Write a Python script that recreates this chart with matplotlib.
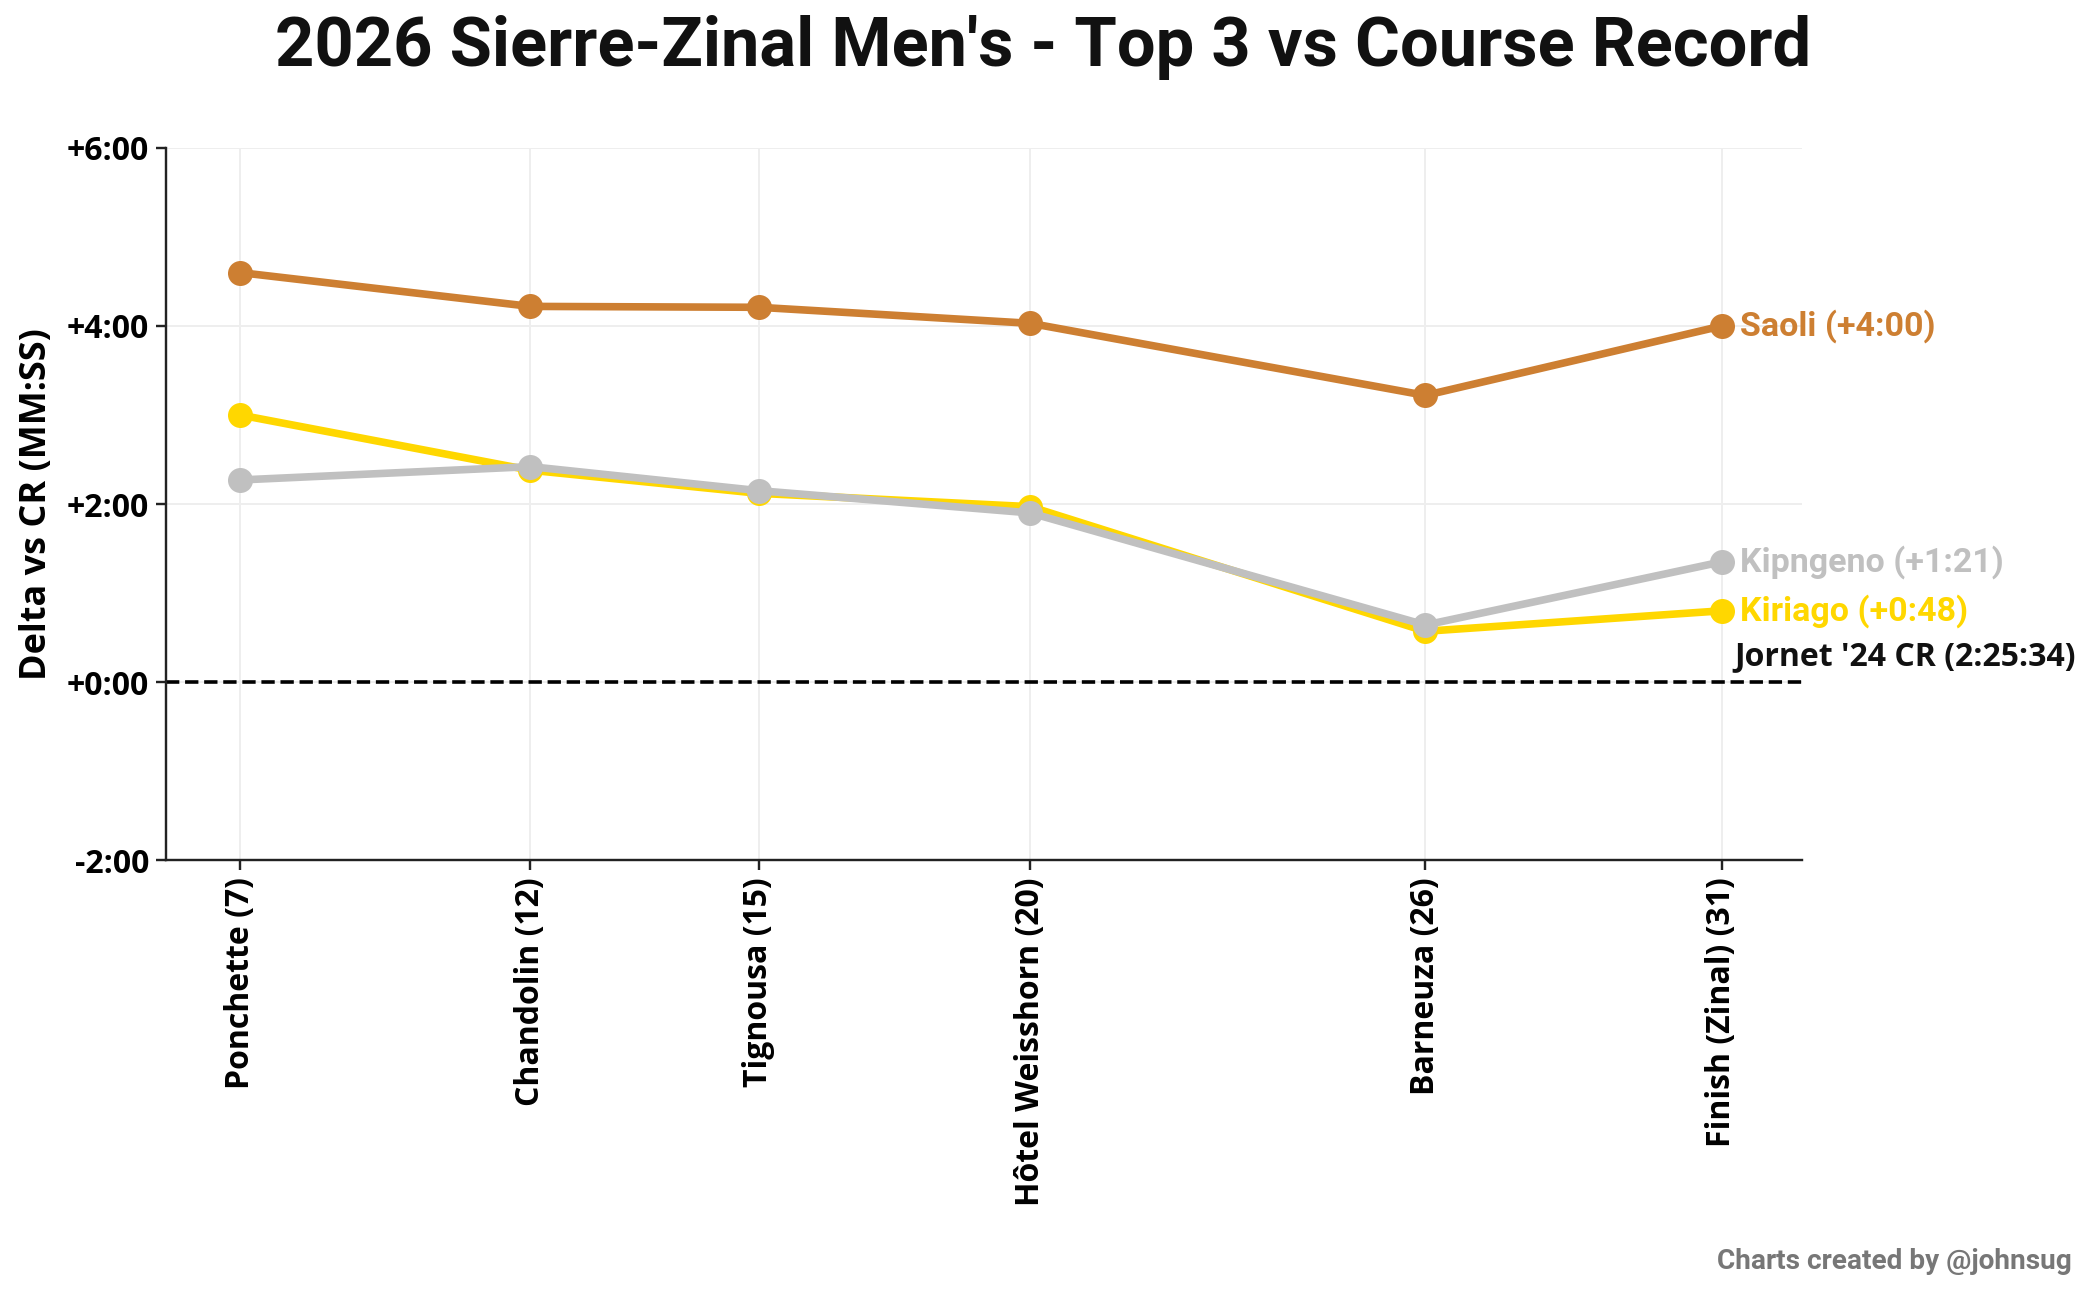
import numpy as np
import matplotlib
matplotlib.use("Agg")
import matplotlib.pyplot as plt
from matplotlib.ticker import FuncFormatter

plt.rcParams['font.family'] = ['Open Sans', 'DejaVu Sans']
plt.rcParams['font.weight'] = 'bold'
condensed = ['Roboto', 'DejaVu Sans']

# checkpoints (name, km)
checkpoints = ["Ponchette", "Chandolin", "Tignousa", "Hôtel Weisshorn", "Barneuza", "Finish (Zinal)"]
km = [7.0, 11.7, 15.4, 19.8, 26.2, 31.0]
km_label = [7, 12, 15, 20, 26, 31]

# delta vs course record, in minutes
kiriago = [3.00, 2.38, 2.12, 1.97, 0.57, 0.80]
kipngeno = [2.27, 2.42, 2.15, 1.90, 0.64, 1.35]
saoli = [4.60, 4.22, 4.21, 4.03, 3.22, 4.00]

runners = ["Kiriago", "Kipngeno", "Saoli"]
finish_gap = ["+0:48", "+1:21", "+4:00"]
colors = ["#FFD700", "#C0C0C0", "#CD7F32"]
series = [kiriago, kipngeno, saoli]


def fmt_delta(v, pos):
    sign = "+" if v >= 0 else "-"
    s = int(round(abs(v) * 60))
    return f"{sign}{s // 60}:{s % 60:02d}"


fig = plt.figure(figsize=(14.5, 1290 / 144), dpi=144)
ax = fig.add_axes([0.0795, 0.3333, 0.7835, 0.552])

for name, vals, c in zip(runners, series, colors):
    ax.plot(km, vals, color=c, lw=3.8, marker="o", markersize=11.5, zorder=3)

for name, gap, vals, c in zip(runners, finish_gap, series, colors):
    ax.text(km[-1] + 0.3, vals[-1], f"{name} ({gap})", color=c, fontsize=17,
            fontweight="bold", va="center", ha="left", family=condensed)

ax.axhline(0, color="black", ls="--", lw=1.8, zorder=2)
ax.text(km[-1] + 0.2, 0.1, "Jornet '24 CR (2:25:34)", fontsize=16,
        fontweight="bold", color="#111111", ha="left", va="bottom")

ax.set_xlim(5.8, 32.3)
ax.set_ylim(-2, 6)
ax.set_yticks([-2, 0, 2, 4, 6])
ax.yaxis.set_major_formatter(FuncFormatter(fmt_delta))
ax.set_xticks(km)
ax.set_xticklabels([f"{n} ({k})" for n, k in zip(checkpoints, km_label)], rotation=90)
ax.tick_params(axis="both", labelsize=16, color="#222222", length=5, width=1.2)
for t in ax.get_xticklabels() + ax.get_yticklabels():
    t.set_fontweight("bold")

ax.grid(True, color="#eeeeee", lw=1, zorder=0)
ax.set_axisbelow(True)
for s in ["top", "right"]:
    ax.spines[s].set_visible(False)
for s in ["left", "bottom"]:
    ax.spines[s].set_color("#222222")
    ax.spines[s].set_linewidth(1.2)

ax.set_ylabel("Delta vs CR (MM:SS)", fontsize=18, fontweight="bold")
ax.yaxis.set_label_coords(-0.068, 0.5)

fig.suptitle("2026 Sierre-Zinal Men's - Top 3 vs Course Record", fontsize=34.3,
             fontweight="bold", color="#111111", x=0.4995, y=0.988, va="top",
             family=condensed)
fig.text(0.992, 0.012, "Charts created by @johnsug", fontsize=14, fontweight="bold",
         color="#777777", ha="right", va="bottom", family=condensed)

fig.savefig("out.png", dpi=144)
